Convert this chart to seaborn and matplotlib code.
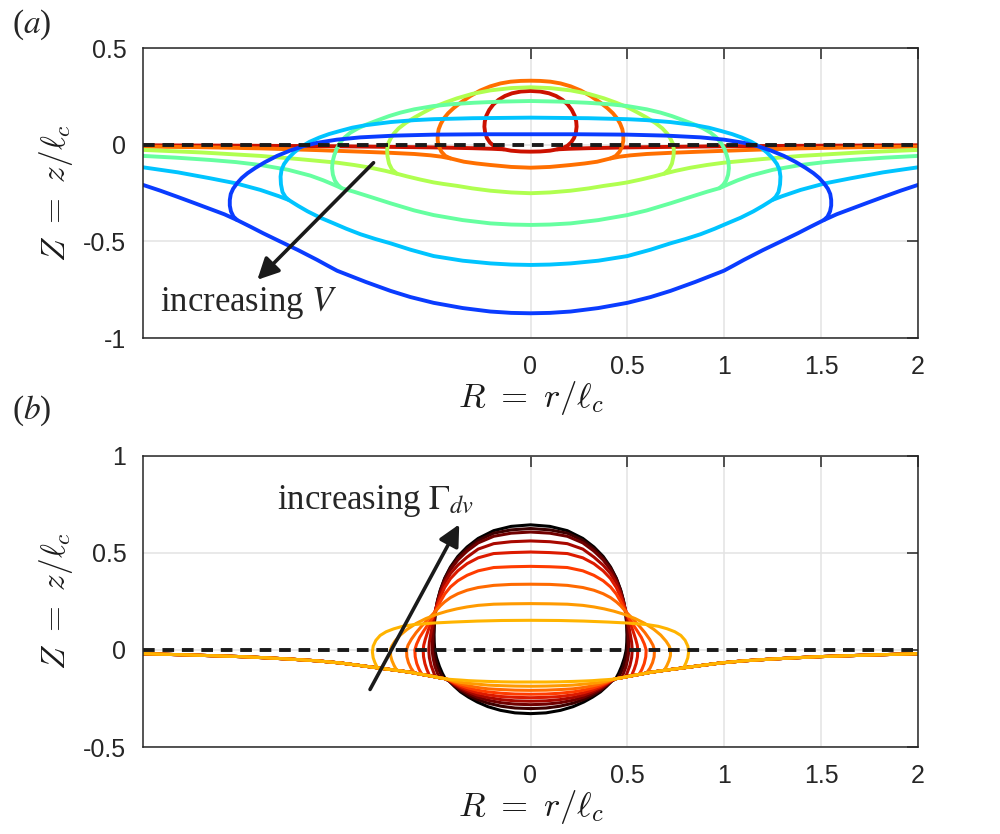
"""two panels of drop profiles: (a) growing volume, (b) growing Gamma_dv"""

import matplotlib
matplotlib.use("Agg")
import matplotlib.pyplot as plt
import seaborn as sns

# ---- panel (a): drops of increasing volume V (right half, R >= 0) ----
# upper: contact line -> over the cap -> axis
# lower: axis -> contact line -> outer meniscus out to R = 2
a_colors = ["#cc1100", "#ff6f00", "#b0ff50", "#66ffa0", "#00c4ff", "#0a3cff"]

red_upper = [(0.138, -0.024), (0.165, -0.018), (0.19, -0.006), (0.21, 0.012), (0.225, 0.035),
             (0.234, 0.062), (0.238, 0.093), (0.236, 0.12), (0.228, 0.15), (0.213, 0.18),
             (0.192, 0.208), (0.165, 0.232), (0.132, 0.252), (0.095, 0.266), (0.05, 0.275),
             (0.0, 0.278)]
red_lower = [(0.0, -0.036), (0.05, -0.035), (0.1, -0.031), (0.138, -0.024), (0.2, -0.021),
             (0.3, -0.018), (0.5, -0.014), (0.75, -0.011), (1.0, -0.008), (1.5, -0.005),
             (2.0, -0.003)]

orange_upper = [(0.413, -0.071), (0.44, -0.058), (0.46, -0.036), (0.472, -0.01), (0.479, 0.02),
                (0.479, 0.05), (0.474, 0.08), (0.463, 0.108), (0.447, 0.136), (0.425, 0.163),
                (0.396, 0.19), (0.36, 0.218), (0.31, 0.252), (0.26, 0.28), (0.207, 0.302),
                (0.155, 0.317), (0.103, 0.326), (0.05, 0.33), (0.0, 0.331)]
orange_lower = [(0.0, -0.119), (0.1, -0.115), (0.207, -0.105), (0.28, -0.097), (0.344, -0.088),
                (0.413, -0.071), (0.46, -0.062), (0.516, -0.055), (0.6, -0.048), (0.723, -0.042),
                (0.878, -0.036), (1.1, -0.028), (1.394, -0.019), (1.7, -0.013), (2.0, -0.010)]

lime_upper = [(0.69, -0.15), (0.715, -0.128), (0.73, -0.098), (0.738, -0.06), (0.74, -0.027),
              (0.735, 0.005), (0.722, 0.032), (0.705, 0.058), (0.68, 0.085), (0.645, 0.112),
              (0.6, 0.14), (0.55, 0.168), (0.5, 0.194), (0.44, 0.218), (0.379, 0.24),
              (0.3, 0.263), (0.207, 0.281), (0.1, 0.293), (0.0, 0.297)]
lime_lower = [(0.0, -0.251), (0.1, -0.247), (0.207, -0.238), (0.3, -0.226), (0.379, -0.213),
              (0.45, -0.203), (0.5, -0.195), (0.57, -0.18), (0.637, -0.164), (0.69, -0.15),
              (0.75, -0.135), (0.826, -0.119), (0.91, -0.105), (0.998, -0.093), (1.2, -0.074),
              (1.394, -0.058), (1.7, -0.04), (2.0, -0.027)]

aqua_upper = [(0.975, -0.225), (0.995, -0.207), (1.01, -0.185), (1.02, -0.155), (1.024, -0.122),
              (1.022, -0.09), (1.013, -0.055), (1.0, -0.02), (0.983, 0.01), (0.96, 0.037),
              (0.93, 0.062), (0.89, 0.085), (0.845, 0.105), (0.79, 0.126), (0.73, 0.148),
              (0.671, 0.166), (0.6, 0.183), (0.5, 0.2), (0.4, 0.21), (0.292, 0.217),
              (0.15, 0.223), (0.0, 0.226)]
aqua_lower = [(0.0, -0.415), (0.1, -0.413), (0.207, -0.407), (0.35, -0.39), (0.5, -0.364),
              (0.6, -0.34), (0.723, -0.303), (0.82, -0.272), (0.912, -0.243), (0.975, -0.225),
              (1.02, -0.205), (1.07, -0.184), (1.136, -0.16), (1.25, -0.13), (1.394, -0.105),
              (1.52, -0.09), (1.652, -0.079), (1.83, -0.067), (2.0, -0.058)]

cyan_upper = [(1.248, -0.286), (1.265, -0.27), (1.28, -0.245), (1.288, -0.205), (1.29, -0.165),
              (1.285, -0.13), (1.272, -0.1), (1.25, -0.07), (1.22, -0.04), (1.185, -0.012),
              (1.14, 0.015), (1.09, 0.037), (1.04, 0.055), (0.98, 0.072), (0.92, 0.088),
              (0.85, 0.101), (0.723, 0.117), (0.6, 0.127), (0.5, 0.132), (0.3, 0.137), (0.0, 0.14)]
cyan_lower = [(0.0, -0.622), (0.1, -0.62), (0.207, -0.614), (0.35, -0.6), (0.5, -0.576),
              (0.62, -0.543), (0.723, -0.51), (0.8, -0.488), (0.878, -0.463), (0.95, -0.435),
              (1.02, -0.405), (1.084, -0.378), (1.15, -0.345), (1.2, -0.316), (1.248, -0.286),
              (1.3, -0.266), (1.394, -0.234), (1.52, -0.2), (1.652, -0.174), (1.82, -0.143),
              (2.0, -0.117)]

blue_upper = [(1.514, -0.39), (1.533, -0.372), (1.546, -0.345), (1.552, -0.315), (1.552, -0.286),
              (1.547, -0.255), (1.535, -0.228), (1.515, -0.2), (1.49, -0.172), (1.46, -0.147),
              (1.42, -0.12), (1.37, -0.09), (1.308, -0.058), (1.24, -0.03), (1.17, -0.007),
              (1.1, 0.01), (1.0, 0.026), (0.878, 0.038), (0.7, 0.047), (0.5, 0.052),
              (0.25, 0.054), (0.0, 0.054)]
blue_lower = [(0.0, -0.872), (0.1, -0.87), (0.207, -0.863), (0.35, -0.845), (0.5, -0.818),
              (0.62, -0.788), (0.723, -0.756), (0.85, -0.71), (0.998, -0.652), (1.05, -0.624),
              (1.101, -0.596), (1.2, -0.545), (1.308, -0.493), (1.38, -0.458), (1.446, -0.424),
              (1.514, -0.39), (1.58, -0.36), (1.652, -0.333), (1.74, -0.3), (1.824, -0.269),
              (1.91, -0.238), (2.0, -0.208)]

# ---- panel (b): drops of increasing Gamma_dv (yellow -> black is increasing) ----
b_colors = ["#000000", "#3c0000", "#700000", "#a80800", "#dc1a00",
            "#ff3c00", "#ff6a00", "#ff9a00", "#ffb400"]

# outer meniscus shared by every drop in (b)
b_meniscus = [(0.44, -0.148), (0.47, -0.143), (0.5, -0.137), (0.56, -0.126), (0.62, -0.115),
              (0.69, -0.105), (0.79, -0.092), (0.88, -0.08), (0.98, -0.067), (1.1, -0.056),
              (1.24, -0.047), (1.37, -0.04), (1.5, -0.034), (1.75, -0.026), (2.0, -0.019)]

# lower (drop-liquid) surfaces, axis -> where they join the meniscus
b1_bulb = [(0.0, -0.328), (0.08, -0.324), (0.155, -0.311), (0.22, -0.292), (0.275, -0.268),
           (0.32, -0.243), (0.361, -0.216), (0.392, -0.188), (0.42, -0.16)]
b2_bulb = [(0.0, -0.302), (0.08, -0.299), (0.15, -0.29), (0.22, -0.274), (0.275, -0.255),
           (0.32, -0.234), (0.36, -0.21), (0.392, -0.185), (0.42, -0.159)]
b3_bulb = [(0.0, -0.282), (0.08, -0.279), (0.15, -0.272), (0.22, -0.259), (0.275, -0.243),
           (0.32, -0.224), (0.36, -0.203), (0.392, -0.181), (0.42, -0.158)]
b4_bulb = [(0.0, -0.264), (0.08, -0.262), (0.15, -0.256), (0.22, -0.245), (0.275, -0.232),
           (0.32, -0.215), (0.36, -0.196), (0.392, -0.177), (0.42, -0.157)]
b5_bulb = [(0.0, -0.246), (0.08, -0.244), (0.15, -0.24), (0.22, -0.231), (0.275, -0.22),
           (0.32, -0.206), (0.36, -0.19), (0.392, -0.173), (0.42, -0.156)]
b6_bulb = [(0.0, -0.228), (0.08, -0.227), (0.15, -0.223), (0.22, -0.216), (0.275, -0.207),
           (0.32, -0.196), (0.36, -0.183), (0.392, -0.169), (0.42, -0.155)]
b7_bulb = [(0.0, -0.208), (0.08, -0.207), (0.15, -0.204), (0.22, -0.2), (0.275, -0.193),
           (0.32, -0.185), (0.36, -0.175), (0.392, -0.165), (0.42, -0.154)]
b8_bulb = [(0.0, -0.187), (0.08, -0.186), (0.15, -0.184), (0.22, -0.181), (0.275, -0.176),
           (0.32, -0.172), (0.36, -0.167), (0.392, -0.16), (0.42, -0.153)]
b9_bulb = [(0.0, -0.165), (0.08, -0.165), (0.15, -0.164), (0.22, -0.162), (0.275, -0.16),
           (0.32, -0.158), (0.36, -0.155), (0.392, -0.153), (0.42, -0.151)]

# upper (drop-vapour) surfaces, contact line -> axis
b1_upper = [(0.44, -0.148), (0.455, -0.12), (0.47, -0.085), (0.485, -0.04), (0.494, 0.0),
            (0.497, 0.04), (0.498, 0.08), (0.496, 0.14), (0.49, 0.2), (0.48, 0.255),
            (0.465, 0.31), (0.443, 0.37), (0.413, 0.428), (0.375, 0.482), (0.327, 0.531),
            (0.27, 0.575), (0.19, 0.615), (0.1, 0.637), (0.0, 0.645)]
b2_upper = [(0.45, -0.146), (0.465, -0.12), (0.48, -0.085), (0.492, -0.04), (0.499, 0.0),
            (0.5, 0.04), (0.5, 0.08), (0.497, 0.14), (0.49, 0.198), (0.48, 0.252),
            (0.465, 0.308), (0.443, 0.366), (0.413, 0.424), (0.375, 0.475), (0.327, 0.522),
            (0.27, 0.565), (0.19, 0.602), (0.1, 0.619), (0.0, 0.626)]
b3_upper = [(0.47, -0.143), (0.48, -0.12), (0.493, -0.085), (0.503, -0.04), (0.508, 0.0),
            (0.507, 0.04), (0.505, 0.08), (0.5, 0.14), (0.492, 0.195), (0.48, 0.247),
            (0.465, 0.3), (0.443, 0.358), (0.413, 0.414), (0.375, 0.464), (0.327, 0.51),
            (0.27, 0.552), (0.19, 0.586), (0.1, 0.602), (0.0, 0.608)]
b4_upper = [(0.49, -0.14), (0.5, -0.115), (0.513, -0.08), (0.522, -0.04), (0.525, 0.0),
            (0.522, 0.04), (0.515, 0.08), (0.506, 0.13), (0.495, 0.185), (0.482, 0.238),
            (0.465, 0.291), (0.443, 0.345), (0.413, 0.394), (0.375, 0.437), (0.327, 0.479),
            (0.27, 0.52), (0.19, 0.548), (0.1, 0.558), (0.0, 0.562)]
b5_upper = [(0.52, -0.135), (0.535, -0.1), (0.545, -0.07), (0.552, -0.035), (0.554, 0.0),
            (0.551, 0.025), (0.543, 0.055), (0.53, 0.095), (0.516, 0.135), (0.5, 0.18),
            (0.485, 0.222), (0.465, 0.273), (0.443, 0.322), (0.413, 0.368), (0.375, 0.408),
            (0.327, 0.445), (0.27, 0.475), (0.19, 0.497), (0.1, 0.502), (0.0, 0.505)]
b6_upper = [(0.56, -0.127), (0.575, -0.1), (0.587, -0.07), (0.595, -0.035), (0.597, 0.0),
            (0.588, 0.03), (0.572, 0.065), (0.55, 0.1), (0.53, 0.13), (0.505, 0.17),
            (0.485, 0.21), (0.465, 0.25), (0.443, 0.288), (0.413, 0.325), (0.375, 0.357),
            (0.327, 0.385), (0.27, 0.408), (0.19, 0.425), (0.1, 0.429), (0.0, 0.431)]
b7_upper = [(0.6, -0.117), (0.617, -0.093), (0.63, -0.065), (0.638, -0.035), (0.64, 0.0),
            (0.632, 0.025), (0.615, 0.055), (0.59, 0.09), (0.56, 0.125), (0.52, 0.168),
            (0.49, 0.2), (0.465, 0.228), (0.443, 0.248), (0.413, 0.27), (0.375, 0.29),
            (0.327, 0.308), (0.27, 0.322), (0.19, 0.333), (0.1, 0.338), (0.0, 0.339)]
b8_upper = [(0.69, -0.105), (0.704, -0.08), (0.715, -0.055), (0.722, -0.03), (0.723, 0.0),
            (0.716, 0.02), (0.7, 0.045), (0.672, 0.077), (0.637, 0.106), (0.59, 0.137),
            (0.54, 0.162), (0.48, 0.185), (0.43, 0.2), (0.38, 0.212), (0.327, 0.222),
            (0.27, 0.23), (0.19, 0.236), (0.1, 0.238), (0.0, 0.239)]
b9_upper = [(0.79, -0.092), (0.803, -0.065), (0.812, -0.04), (0.816, -0.01), (0.812, 0.02),
            (0.798, 0.05), (0.776, 0.075), (0.745, 0.094), (0.706, 0.109), (0.66, 0.122),
            (0.602, 0.131), (0.5, 0.139), (0.4, 0.144), (0.275, 0.149), (0.15, 0.152),
            (0.0, 0.153)]

# undisturbed interface level and the two "increasing" arrows
flat_r = [-2.0, 2.0]
flat_z = [0.0, 0.0]
arrow_a = [(-0.80, -0.083), (-1.42, -0.709)]
arrow_b = [(-0.835, -0.216), (-0.361, 0.66)]
x_ticks = [0, 0.5, 1, 1.5, 2]
a_yticks = [-1, -0.5, 0, 0.5]
b_yticks = [-0.5, 0, 0.5, 1]

GRAY = "#262626"


def full_upper(half):
    """mirror a cap (contact line -> axis) onto R < 0"""
    return half + [(-r, z) for r, z in reversed(half[:-1])]


def full_lower(half):
    """mirror an (axis -> far field) profile onto R < 0"""
    return [(-r, z) for r, z in reversed(half[1:])] + half


def draw(ax, pts, color, lw):
    sns.lineplot(x=[p[0] for p in pts], y=[p[1] for p in pts], sort=False,
                 estimator=None, color=color, linewidth=lw, ax=ax,
                 solid_joinstyle="round", solid_capstyle="round")


def style_axes(ax, yticks, ylim):
    ax.set_xlim(-2, 2)
    ax.set_ylim(*ylim)
    ax.set_xticks(x_ticks)
    ax.set_xticklabels(["0", "0.5", "1", "1.5", "2"])
    ax.set_yticks(yticks)
    ax.set_yticklabels([f"{t:g}" for t in yticks])
    ax.grid(True, color="#e3e3e3", linewidth=1.1)
    ax.set_axisbelow(True)
    ax.tick_params(direction="in", length=8, width=1.1, top=True, right=True,
                   color=GRAY, labelcolor=GRAY, labelsize=18, pad=12)
    for sp in ax.spines.values():
        sp.set_color(GRAY)
        sp.set_linewidth(1.1)
    ax.set_xlabel(r"$R\ =\ r/\ell_c$", fontsize=25, color="k", labelpad=0)
    ax.set_ylabel(r"$Z\ =\ z/\ell_c$", fontsize=24, color="k", labelpad=6)


sns.set_theme(style="white")
plt.rcParams["font.family"] = ["Liberation Sans", "DejaVu Sans"]
plt.rcParams["mathtext.fontset"] = "cm"

fig = plt.figure(figsize=(10, 8.34), dpi=100)
ax_a = fig.add_axes([0.143, 0.5947, 0.775, 0.3477])
ax_b = fig.add_axes([0.143, 0.1043, 0.775, 0.349])

# panel (a)
a_curves = [(red_upper, red_lower), (orange_upper, orange_lower), (lime_upper, lime_lower),
            (aqua_upper, aqua_lower), (cyan_upper, cyan_lower), (blue_upper, blue_lower)]
for (up, lo), col in zip(a_curves, a_colors):
    draw(ax_a, full_lower(lo), col, 2.8)
    draw(ax_a, full_upper(up), col, 2.8)
sns.lineplot(x=flat_r, y=flat_z, color="k", linewidth=2.8, linestyle=(0, (3, 2)), ax=ax_a)
style_axes(ax_a, a_yticks, (-1, 0.5))
ax_a.annotate("", xy=arrow_a[1], xytext=arrow_a[0],
              arrowprops=dict(arrowstyle="-|>", color="k", lw=2.6, mutation_scale=32))
ax_a.text(-1.91, -0.86, r"increasing $V$", fontsize=25, family="Liberation Serif",
          math_fontfamily="stix", ha="left", va="baseline")

# panel (b)
b_upper = [b1_upper, b2_upper, b3_upper, b4_upper, b5_upper, b6_upper, b7_upper, b8_upper, b9_upper]
b_bulb = [b1_bulb, b2_bulb, b3_bulb, b4_bulb, b5_bulb, b6_bulb, b7_bulb, b8_bulb, b9_bulb]
for up, bulb, col in zip(b_upper, b_bulb, b_colors):
    draw(ax_b, full_lower(bulb + b_meniscus), col, 2.2)
    draw(ax_b, full_upper(up), col, 2.2)
sns.lineplot(x=flat_r, y=flat_z, color="k", linewidth=2.8, linestyle=(0, (3, 2)), ax=ax_b)
style_axes(ax_b, b_yticks, (-0.5, 1))
ax_b.annotate("", xy=arrow_b[1], xytext=arrow_b[0],
              arrowprops=dict(arrowstyle="-|>", color="k", lw=2.6, mutation_scale=32))
ax_b.text(-1.308, 0.729, r"increasing $\Gamma_{dv}$", fontsize=25, family="Liberation Serif",
          math_fontfamily="stix", ha="left", va="baseline")

fig.text(0.012, 0.970, r"($a$)", fontsize=24, family="Liberation Serif",
         math_fontfamily="stix", va="center")
fig.text(0.012, 0.508, r"($b$)", fontsize=24, family="Liberation Serif",
         math_fontfamily="stix", va="center")

fig.savefig("out.png", dpi=100)
